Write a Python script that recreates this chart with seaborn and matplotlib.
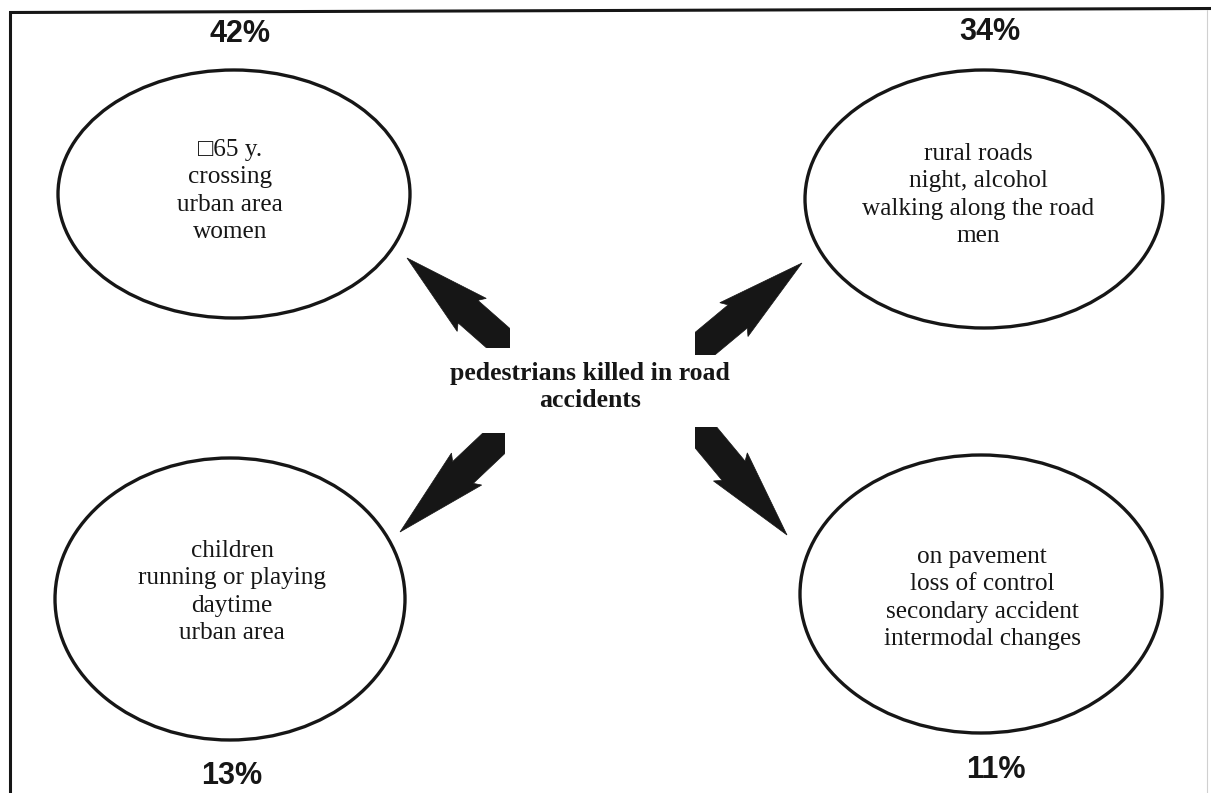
import numpy as np
import matplotlib
matplotlib.use("Agg")
import matplotlib.pyplot as plt
import seaborn as sns
from matplotlib.patches import Ellipse, Polygon, Rectangle

# ---- data ----
shares = [42, 34, 13, 11]
profiles = [
    "\u25a165 y.\ncrossing\nurban area\nwomen",
    "rural roads\nnight, alcohol\nwalking along the road\nmen",
    "children\nrunning or playing\ndaytime\nurban area",
    "on pavement\nloss of control\nsecondary accident\nintermodal changes",
]
center_label = "pedestrians killed in road\naccidents"

# ---- layout (pixel coords, y down) ----
ellipse_xy = [(234, 194), (984, 199), (230, 599), (981, 594)]
ellipse_wh = [(352, 248), (358, 258), (350, 282), (362, 278)]
text_xy = [(230, 191), (978, 195), (232, 592), (982, 598)]
pct_xy = [(240, 34), (990, 32), (232, 776), (996, 770)]
arrow_tail = [(498, 338), (707, 342), (492, 445), (708, 440)]
arrow_tip = [(407, 258), (802, 263), (400, 532), (787, 535)]
# the blunt tail of each arrow is cut square to the page at this corner
tail_corner = [(510, 348), (695, 355), (505, 433), (695, 427)]

sns.set_theme(style="white")
ink = "#161616"

fig = plt.figure(figsize=(12.11, 7.93), dpi=100)
ax = fig.add_axes([0, 0, 1, 1])
ax.set_xlim(0, 1211)
ax.set_ylim(793, 0)
ax.axis("off")

# frame (scanned page: top edge slightly tilted, right edge faint)
ax.plot([9, 1211], [12.5, 8.5], color=ink, lw=2.2, solid_capstyle="butt")
ax.plot([10, 10], [12, 793], color=ink, lw=2.2, solid_capstyle="butt")
ax.plot([1207, 1207], [10, 793], color="#d0d0d0", lw=0.8)


def block_arrow(tail, tip, corner):
    tail = np.array(tail, float)
    tip = np.array(tip, float)
    d = tip - tail
    L = np.hypot(*d)
    u = d / L
    p = np.array([-u[1], u[0]])
    local = [(-20, 15), (40, 15), (35, 22), (L, 0), (35, -22), (40, -15), (-20, -15)]
    pts = [tail + a * u + b * p for a, b in local]
    arrow = Polygon(pts, closed=True, facecolor=ink, edgecolor=ink, lw=0.5)
    ax.add_patch(arrow)
    # clip box on the tip side of the corner
    cx, cy = corner
    w = 400 * np.sign(tip[0] - cx)
    h = 400 * np.sign(tip[1] - cy)
    box = Rectangle((cx, cy), w, h, transform=ax.transData, fill=False, visible=False)
    ax.add_patch(box)
    arrow.set_clip_path(box)


for i in range(4):
    (cx, cy), (w, h) = ellipse_xy[i], ellipse_wh[i]
    ax.add_patch(Ellipse((cx, cy), w, h, fill=False, edgecolor=ink, lw=2.4))
    ax.text(*text_xy[i], profiles[i], ha="center", va="center",
            fontsize=18.2, linespacing=1.33, color=ink,
            family=["Liberation Serif", "DejaVu Sans"])
    ax.text(*pct_xy[i], f"{shares[i]}%", ha="center", va="center",
            fontsize=22, fontweight="bold", color=ink,
            family=["Liberation Sans", "DejaVu Sans"])
    block_arrow(arrow_tail[i], arrow_tip[i], tail_corner[i])

ax.text(590, 387, center_label, ha="center", va="center", fontsize=18.5,
        fontweight="bold", linespacing=1.25, color=ink,
        family=["Liberation Serif", "DejaVu Serif"])

fig.savefig("out.png", dpi=100, facecolor="white")
